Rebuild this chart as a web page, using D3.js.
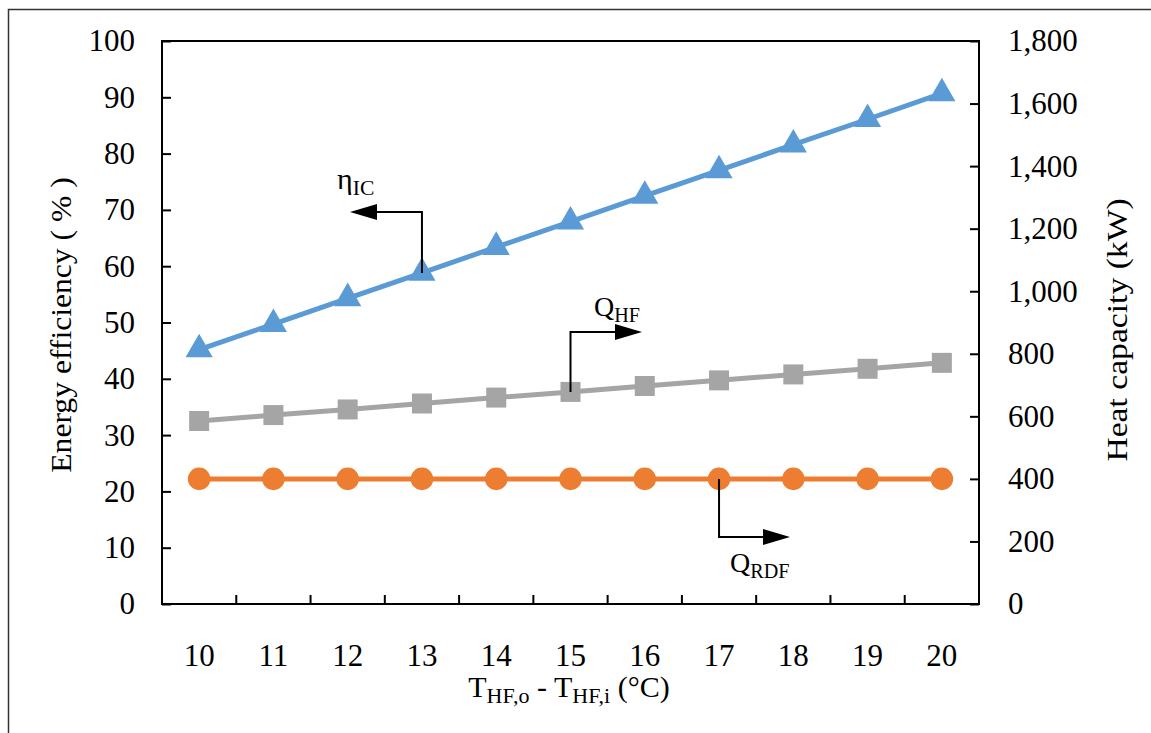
<!DOCTYPE html>
<html>
<head>
<meta charset="utf-8">
<script src="https://cdn.jsdelivr.net/npm/d3@7"></script>
<style>
  body { margin: 0; background: #fff; }
  svg { display: block; font-family: "Liberation Serif", "Times New Roman", serif; }
  svg text { font-family: "Liberation Serif", "Times New Roman", serif; }
</style>
</head>
<body>
<svg id="chart" width="1151" height="733"></svg>
<script>
// data
const deltaT = [10, 11, 12, 13, 14, 15, 16, 17, 18, 19, 20];
const etaIC = [45.2, 49.7, 54.3, 58.8, 63.4, 67.9, 72.5, 77.0, 81.6, 86.1, 90.7];   // %
const qHF = [585, 604, 622, 641, 660, 678, 697, 715, 734, 752, 771];             // kW
const qRDF = [400, 400, 400, 400, 400, 400, 400, 400, 400, 400, 400];            // kW
const leftTicks = [0, 10, 20, 30, 40, 50, 60, 70, 80, 90, 100];
const rightTicks = [0, 200, 400, 600, 800, 1000, 1200, 1400, 1600, 1800];

const margin = { top: 41, right: 172, bottom: 129, left: 162 };
const W = 1151, H = 733;
const width = W - margin.left - margin.right;
const height = H - margin.top - margin.bottom;

const svg = d3.select("#chart");

// outer frame
svg.append("rect")
    .attr("x", 8.5).attr("y", 9.5)
    .attr("width", W + 10).attr("height", H + 10)
    .attr("fill", "none").attr("stroke", "#333").attr("stroke-width", 1.5);

const g = svg.append("g").attr("transform", `translate(${margin.left},${margin.top})`);

const x = d3.scaleBand().domain(deltaT).range([0, width]);
const yL = d3.scaleLinear().domain([0, 100]).range([height, 0]);
const yR = d3.scaleLinear().domain([0, 1800]).range([height, 0]);

// axes
const xAxis = g.append("g").attr("transform", `translate(0,${height})`)
    .call(d3.axisBottom(x).tickSize(0).tickPadding(40));
xAxis.attr("font-family", null);
xAxis.selectAll("text").style("font-size", "31px").attr("fill", "#000");
xAxis.select(".domain").remove();

// x ticks at the band boundaries, pointing up
g.append("g").selectAll("line")
    .data(deltaT.slice(1))
    .enter().append("line")
    .attr("x1", d => x(d)).attr("x2", d => x(d))
    .attr("y1", height).attr("y2", height - 9)
    .attr("stroke", "#000").attr("stroke-width", 2);

const leftAxis = g.append("g")
    .call(d3.axisLeft(yL).tickValues(leftTicks).tickSize(-9).tickPadding(27).tickSizeOuter(0));
leftAxis.attr("font-family", null);
leftAxis.selectAll("text").style("font-size", "31px").attr("fill", "#000");
leftAxis.selectAll(".tick line").attr("stroke-width", 2);
leftAxis.select(".domain").remove();

const rightAxis = g.append("g").attr("transform", `translate(${width},0)`)
    .call(d3.axisRight(yR).tickValues(rightTicks).tickSize(-9).tickPadding(29)
        .tickFormat(d3.format(",")).tickSizeOuter(0));
rightAxis.attr("font-family", null);
rightAxis.selectAll("text").style("font-size", "31px").attr("fill", "#000");
rightAxis.selectAll(".tick line").attr("stroke-width", 2);
rightAxis.select(".domain").remove();

// plot frame
g.append("rect")
    .attr("width", width).attr("height", height)
    .attr("fill", "none").attr("stroke", "#000").attr("stroke-width", 2);

// series
const series = [
    { name: "qRDF", values: qRDF, y: yR, color: "#ED7D31", shape: d3.symbolCircle, size: 400 },
    { name: "qHF", values: qHF, y: yR, color: "#A5A5A5", shape: d3.symbolSquare, size: 400 },
    { name: "etaIC", values: etaIC, y: yL, color: "#5B9BD5", shape: d3.symbolTriangle, size: 320 }
];

const cx = d => x(d) + x.bandwidth() / 2;

series.forEach(s => {
    const line = d3.line()
        .x((d, i) => cx(deltaT[i]))
        .y(d => s.y(d));
    g.append("path")
        .datum(s.values)
        .attr("d", line)
        .attr("fill", "none")
        .attr("stroke", s.color)
        .attr("stroke-width", 5);
    g.append("g").selectAll("path")
        .data(s.values)
        .enter().append("path")
        .attr("transform", (d, i) => `translate(${cx(deltaT[i])},${s.y(d)})`)
        .attr("d", d3.symbol().type(s.shape).size(s.size))
        .attr("fill", s.color);
});

// annotation callouts: bent line from a point plus a filled arrow head
function arrowHead(xTip, yy, dir) {
    const base = xTip - dir * 27;
    g.append("path")
        .attr("d", `M${xTip},${yy} L${base},${yy - 8} L${base},${yy + 8} Z`)
        .attr("fill", "#000");
}
function bentLine(i, val, yScale, yMid, xEnd) {
    const px = cx(deltaT[i]), py = yScale(val);
    g.append("path")
        .attr("d", `M${px},${py} V${yMid} H${xEnd}`)
        .attr("fill", "none").attr("stroke", "#000").attr("stroke-width", 2);
}

// eta_IC -> left axis
bentLine(3, etaIC[3], yL, 212 - margin.top, 370 - margin.left);
arrowHead(350 - margin.left, 212 - margin.top, -1);
// Q_HF -> right axis
bentLine(5, qHF[5], yR, 332 - margin.top, 620 - margin.left);
arrowHead(642 - margin.left, 332 - margin.top, 1);
// Q_RDF -> right axis
bentLine(7, qRDF[7], yR, 537 - margin.top, 770 - margin.left);
arrowHead(790 - margin.left, 537 - margin.top, 1);

// annotation labels
function subLabel(xx, yy, main, sub, size) {
    const t = svg.append("text").attr("x", xx).attr("y", yy)
        .style("font-size", size + "px").attr("fill", "#000");
    t.append("tspan").text(main);
    t.append("tspan").attr("dy", 6).style("font-size", (size * 0.72) + "px").text(sub);
    return t;
}
subLabel(337, 189, "η", "IC", 30);
subLabel(594, 316, "Q", "HF", 28);
subLabel(730, 572, "Q", "RDF", 28);

// axis titles (stretched along their length like the reference)
svg.append("text")
    .attr("transform", "translate(71,325) rotate(-90) scale(1.09,1)")
    .attr("text-anchor", "middle")
    .style("font-size", "29px")
    .text("Energy efficiency ( % )");

svg.append("text")
    .attr("transform", "translate(1127,330) rotate(-90) scale(1.16,1)")
    .attr("text-anchor", "middle")
    .style("font-size", "29px")
    .text("Heat capacity (kW)");

const xt = svg.append("text")
    .attr("x", 569).attr("y", 697)
    .attr("text-anchor", "middle")
    .style("font-size", "30px");
xt.append("tspan").text("T");
xt.append("tspan").attr("dy", 6).style("font-size", "22px").text("HF,o");
xt.append("tspan").attr("dy", -6).text(" - T");
xt.append("tspan").attr("dy", 6).style("font-size", "22px").text("HF,i");
xt.append("tspan").attr("dy", -6).text(" (°C)");
</script>
</body>
</html>
